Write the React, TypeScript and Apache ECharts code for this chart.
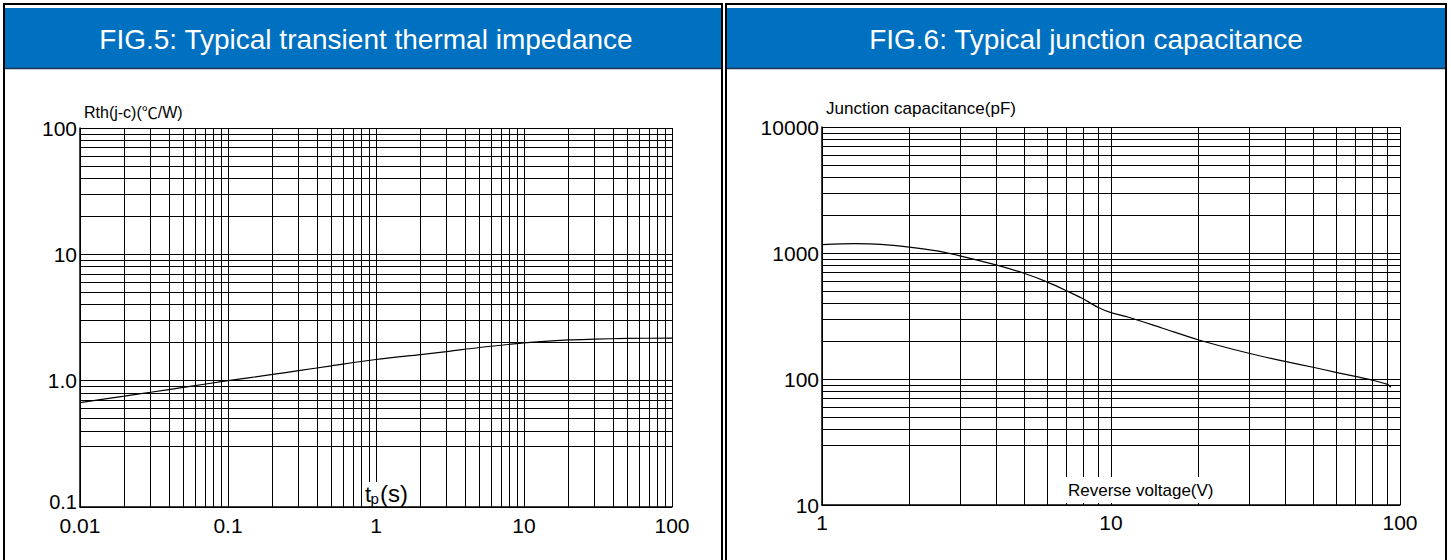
import React, { useEffect, useRef } from "react";
import * as echarts from "echarts";

// ---- data ----
const thermalT = [0.01, 0.02, 0.03, 0.05, 0.1, 0.2, 0.3, 0.5, 1, 2, 3, 5, 10, 20, 30, 50, 100];
const thermalR = [0.67, 0.755, 0.81, 0.885, 1.0, 1.12, 1.2, 1.31, 1.47, 1.61, 1.7, 1.83, 1.99, 2.1, 2.13, 2.16, 2.17];

const capV = [1, 1.3, 1.6, 2, 2.5, 3, 4, 5, 6, 7, 8, 9, 10, 11.5, 15, 20, 30, 40, 50, 60, 70, 80, 90, 93];
const capC = [1165, 1185, 1170, 1115, 1040, 950, 804, 690, 590, 503, 433, 371, 336, 309, 254, 205, 160, 138, 124, 113, 105, 98, 91, 86];

// tick labels
const leftXLabels = ["0.01", "0.1", "1", "10", "100"];
const leftYLabels = ["0.1", "1.0", "10", "100"];
const rightXLabels = ["1", "10", "100"];
const rightYLabels = ["10", "100", "1000", "10000"];

// minor grid lines
const leftXMinor = [
  0.02, 0.03, 0.04, 0.05, 0.06, 0.07, 0.08, 0.09,
  0.2, 0.3, 0.4, 0.5, 0.6, 0.7, 0.8, 0.9,
  2, 3, 4, 5, 6, 7, 8, 9,
  20, 30, 40, 50, 60, 70, 80, 90,
];
const leftYMinor = [
  0.3, 0.4, 0.5, 0.6, 0.7, 0.8, 0.9,
  2, 3, 4, 5, 6, 7, 8, 9,
  20, 30, 40, 50, 60, 70, 80, 90,
];
const rightXMinor = [2, 3, 4, 5, 6, 7, 8, 9, 20, 30, 40, 50, 60, 70, 80, 90];
const rightYMinor = [
  30, 40, 50, 60, 70, 80, 90,
  200, 300, 400, 500, 600, 700, 800, 900,
  2000, 3000, 4000, 5000, 6000, 7000, 8000, 9000,
];

const FONT = "'Liberation Sans', Arial, 'DejaVu Sans', sans-serif";
const CJK = "'Noto Sans CJK SC', 'DejaVu Sans', sans-serif";
const BLUE = "#0070C0";

function labelFor(list: string[], offset: number, raiseMin: boolean) {
  return (v: number) => {
    const i = Math.round(Math.log10(v)) + offset;
    const s = list[i] ?? "";
    if (raiseMin && i === 0) return "{lo|" + s + "}";
    return s;
  };
}

function logAxis(
  gridIndex: number,
  min: number,
  max: number,
  labels: string[],
  offset: number,
  isY: boolean,
  margin: number,
  raiseMin = false
) {
  return {
    type: "log",
    logBase: 10,
    gridIndex,
    min,
    max,
    axisLine: { show: true, onZero: false, lineStyle: { color: "#000", width: 1.5 } },
    axisTick: { show: false },
    splitLine: { show: true, lineStyle: { color: "#000", width: 1 } },
    axisLabel: {
      color: "#000",
      fontSize: 21,
      lineHeight: 15,
      fontFamily: FONT,
      margin,
      formatter: labelFor(labels, offset, raiseMin),
      rich: {
        lo: { fontSize: 20, lineHeight: 15, fontFamily: FONT, color: "#000", padding: [0, 0, 10, 0] },
      },
    },
  };
}

function gridMarks(xs: number[], ys: number[]) {
  return {
    silent: true,
    symbol: ["none", "none"],
    z: 3,
    label: { show: false },
    emphasis: { disabled: true },
    lineStyle: { color: "#000", width: 1, type: "solid" },
    data: [...xs.map((v) => ({ xAxis: v })), ...ys.map((v) => ({ yAxis: v }))],
  };
}

export default function App() {
  const ref = useRef<HTMLDivElement>(null);

  useEffect(() => {
    if (!ref.current) return;
    const chart = echarts.init(ref.current, null, { renderer: "svg" });
    const option: any = {
      animation: false,
      backgroundColor: "#fff",
      grid: [
        { left: 80, top: 128, width: 592, height: 379 },
        { left: 822, top: 127, width: 578, height: 378 },
      ],
      xAxis: [
        logAxis(0, 0.01, 100, leftXLabels, 2, false, 11),
        logAxis(1, 1, 100, rightXLabels, 0, false, 10),
      ],
      yAxis: [
        logAxis(0, 0.1, 100, leftYLabels, 1, true, 3, true),
        logAxis(1, 10, 10000, rightYLabels, -1, true, 3),
      ],
      series: [
        {
          type: "line",
          xAxisIndex: 0,
          yAxisIndex: 0,
          z: 4,
          data: thermalT.map((t, i) => [t, thermalR[i]]),
          showSymbol: false,
          smooth: 0.3,
          lineStyle: { color: "#000", width: 1.2 },
          markLine: gridMarks(leftXMinor, leftYMinor),
        },
        {
          type: "line",
          xAxisIndex: 1,
          yAxisIndex: 1,
          z: 4,
          data: capV.map((v, i) => [v, capC[i]]),
          showSymbol: false,
          smooth: 0.3,
          lineStyle: { color: "#000", width: 1.2 },
          markLine: gridMarks(rightXMinor, rightYMinor),
        },
      ],
      graphic: [
        // panel frames
        { type: "rect", z: 50, shape: { x: 4, y: 4, width: 718, height: 600 }, style: { fill: "none", stroke: "#000", lineWidth: 2 } },
        { type: "rect", z: 50, shape: { x: 726, y: 4, width: 720, height: 600 }, style: { fill: "none", stroke: "#000", lineWidth: 2 } },
        // headers
        { type: "rect", z: 51, shape: { x: 5, y: 8, width: 716, height: 60 }, style: { fill: BLUE } },
        { type: "rect", z: 51, shape: { x: 727, y: 8, width: 718, height: 60 }, style: { fill: BLUE } },
        { type: "line", z: 52, shape: { x1: 5, y1: 68.5, x2: 721, y2: 68.5 }, style: { stroke: "#1d3550", lineWidth: 1.5 } },
        { type: "line", z: 52, shape: { x1: 727, y1: 68.5, x2: 1445, y2: 68.5 }, style: { stroke: "#1d3550", lineWidth: 1.5 } },
        {
          type: "text", z: 53, x: 366, y: 39,
          style: { text: "FIG.5: Typical transient thermal impedance", fill: "#fff", font: `28px ${FONT}`, align: "center", verticalAlign: "middle" },
        },
        {
          type: "text", z: 53, x: 1086, y: 39,
          style: { text: "FIG.6: Typical junction capacitance", fill: "#fff", font: `28px ${FONT}`, align: "center", verticalAlign: "middle" },
        },
        // axis names
        {
          type: "text", z: 53, x: 84, y: 112,
          style: {
            text: "{a|Rth(j-c)(}{c|℃}{a|/W)}",
            fill: "#000",
            align: "left",
            verticalAlign: "middle",
            rich: {
              a: { fontSize: 16, fontFamily: FONT, fill: "#000" },
              c: { fontSize: 16, fontFamily: CJK, fill: "#000" },
            },
          },
        },
        {
          type: "text", z: 53, x: 826, y: 108,
          style: { text: "Junction capacitance(pF)", fill: "#000", font: `17px ${FONT}`, align: "left", verticalAlign: "middle" },
        },
        // tp(s) label with white box
        { type: "rect", z: 52, shape: { x: 363, y: 482, width: 52, height: 24 }, style: { fill: "#fff" } },
        { type: "text", z: 53, x: 365, y: 505, style: { text: "t", fill: "#000", font: `22px ${FONT}`, align: "left", verticalAlign: "bottom" } },
        { type: "text", z: 53, x: 370.5, y: 506, style: { text: "p", fill: "#000", font: `15px ${FONT}`, align: "left", verticalAlign: "bottom" } },
        { type: "text", z: 53, x: 380, y: 505, style: { text: "(s)", fill: "#000", font: `24px ${FONT}`, align: "left", verticalAlign: "bottom" } },
        // Reverse voltage label with white box
        { type: "rect", z: 52, shape: { x: 1062, y: 477, width: 158, height: 26 }, style: { fill: "#fff" } },
        {
          type: "text", z: 53, x: 1068, y: 490,
          style: { text: "Reverse voltage(V)", fill: "#000", font: `17px ${FONT}`, align: "left", verticalAlign: "middle" },
        },
      ],
    };
    chart.setOption(option);
    return () => chart.dispose();
  }, []);

  return (
    <div
      ref={ref}
      style={{ position: "absolute", left: 0, top: 0, width: 1451, height: 560, background: "#fff" }}
    />
  );
}
